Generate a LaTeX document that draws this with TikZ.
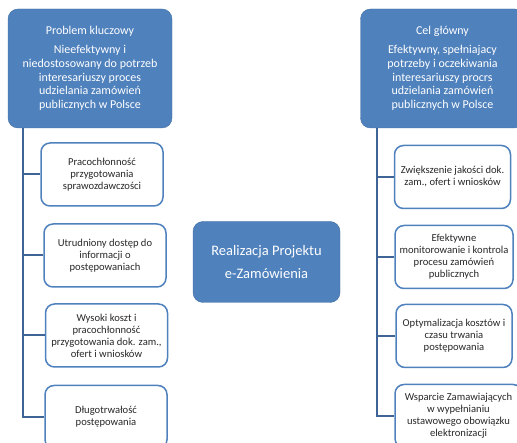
\documentclass[tikz,border=0pt]{standalone}
\usepackage{fontspec}
\setmainfont{Carlito}
\usetikzlibrary{positioning,calc}
\definecolor{ezblue}{RGB}{79,129,189}
\definecolor{ezline}{RGB}{62,100,152}
\definecolor{eztext}{RGB}{40,40,40}

\begin{document}
\begin{tikzpicture}[x=1pt, y=-1pt]
  \tikzset{
    topbox/.style={draw=ezblue!85!black, fill=ezblue, rounded corners=10pt, text=white,
      minimum width=164pt, minimum height=119pt, align=center, inner sep=2pt,
      font=\fontsize{12}{13.7}\selectfont},
    midbox/.style={draw=ezblue!85!black, fill=ezblue, rounded corners=10pt, text=white,
      minimum width=147pt, minimum height=81pt, align=center,
      font=\fontsize{14.5}{23}\selectfont},
    subbox/.style={draw=ezblue, line width=1.5pt, fill=white, rounded corners=9pt, text=eztext,
      minimum height=63pt, align=center, inner sep=2pt,
      font=\fontsize{10.6}{12}\selectfont},
    link/.style={draw=ezline, line width=2pt}
  }
  \useasboundingbox (0,0) rectangle (517,443);
  \clip (0,0) rectangle (517,443);

  % Top row
  \node[topbox] (pk) at (90,68.5) {Problem kluczowy\\[5pt]Nieefektywny i\\niedostosowany do potrzeb\\interesariuszy proces\\udzielania zamówień\\publicznych w Polsce};
  \node[topbox] (cg) at (442.5,68.5) {Cel główny\\[5pt]Efektywny, spełniajacy\\potrzeby i oczekiwania\\interesariuszy procrs\\udzielania zamówień\\publicznych w Polsce};

  % Centre
  \node[midbox] (rp) at (266.5,262) {Realizacja Projektu\\e-Zamówienia};

  % Left column
  \node[subbox, minimum width=122pt] (p1) at (102,174.5) {Pracochłonność\\przygotowania\\sprawozdawczości};
  \node[subbox, minimum width=122pt] (p2) at (105,255.5) {Utrudniony dostęp do\\informacji o\\postępowaniach};
  \node[subbox, minimum width=122pt] (p3) at (106.5,335.5) {Wysoki koszt i\\pracochłonność\\przygotowania dok. zam.,\\ofert i wniosków};
  \node[subbox, minimum width=122pt] (p4) at (106,417) {Długotrwałość\\postępowania};

  % Right column
  \node[subbox, minimum width=116pt] (c1) at (452.5,177) {Zwiększenie jakości dok.\\zam., ofert i wniosków};
  \node[subbox, minimum width=118pt] (c2) at (454,257) {Efektywne\\monitorowanie i kontrola\\procesu zamówień\\publicznych};
  \node[subbox, minimum width=116pt] (c3) at (454,336) {Optymalizacja kosztów i\\czasu trwania\\postępowania};
  \node[subbox, minimum width=127pt] (c4) at (458.5,416) {Wsparcie Zamawiających\\w wypełnianiu\\ustawowego obowiązku\\elektronizacji};

  % Connectors
  \coordinate (lspine) at ([xshift=15pt]pk.south west);
  \coordinate (rspine) at ([xshift=17pt]cg.south west);
  \draw[link] (lspine) |- (p4.west);
  \draw[link] (rspine) |- (c4.west);
  \foreach \n in {p1,p2,p3} \draw[link] (\n.west) -- (\n.west -| lspine);
  \foreach \n in {c1,c2,c3} \draw[link] (\n.west) -- (\n.west -| rspine);
\end{tikzpicture}
\end{document}
